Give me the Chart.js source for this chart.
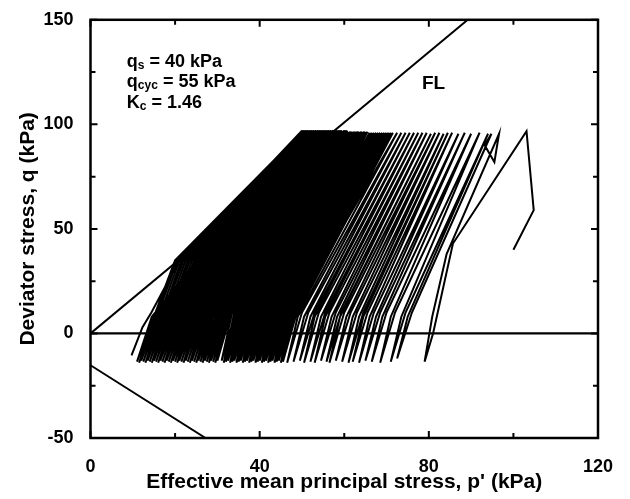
<!DOCTYPE html>
<html>
<head>
<meta charset="utf-8">
<script src="https://cdn.jsdelivr.net/npm/chart.js@4"></script>
<style>
  html, body { margin: 0; padding: 0; background: #fff; }
  canvas { display: block; }
</style>
</head>
<body>
<canvas id="stress-path" width="630" height="499"></canvas>
<script>
// axis ticks
const xTickValues = [0, 40, 80, 120];
const xMinorValues = [20, 60, 100];
const yTickValues = [-50, 0, 50, 100, 150];
const yMinorValues = [-25, 25, 75, 125];

// reference lines (p', q)
const failureLine = [[0, 0], [89.2, 150]];
const extensionLine = [[0, -15.2], [27.2, -50]];
const zeroLine = [[0, 0], [120, 0]];

// effective stress path (p', q)
const earlyCycles = [
    [100, 40], [104.8, 59], [103.1, 96.7], [85.7, 43], [81, 0], [79, -13.5],
    [80.8, 8], [84.2, 38], [96.6, 95.5], [95.5, 82], [93.2, 90], [94.8, 95.5], [76, 10],
    [72.5, -12], [75, 8], [94, 95.5], [74.5, 10],
    [71, -13.5], [73.5, 8], [92, 96], [72, 10],
    [68.5, -14], [71, 8], [90, 95.5], [70, 10],
    [66.5, -13.5], [69, 8], [88.5, 96], [68.5, 10],
    [65, -13], [67.5, 8], [87, 95.5], [67, 10],
    [63.5, -14], [66, 8], [85.5, 96], [65.5, 10],
    [62, -13.5], [64.5, 8], [84.5, 96], [64.5, 10],
    [61, -14], [63.5, 8], [83.5, 95.5], [63, 10],
    [59.5, -13.5], [62, 8], [82.5, 96], [61.5, 10],
    [58, -13], [60.5, 8], [81.5, 96], [60, 10],
    [56.5, -14], [59, 8], [80.5, 95.5], [59.3, 10],
    [55.8, -13.5], [58.3, 8], [79.5, 96], [58, 10],
    [54.5, -13], [57, 8], [78.5, 96], [56.5, 10],
    [53, -14], [55.5, 8], [77.5, 96], [55.5, 10],
    [52, -13.5], [54.5, 8], [76.5, 96], [54, 10],
    [50.5, -14], [53, 8], [75.5, 96], [53, 10],
    [49.5, -13], [52, 8], [74.5, 96], [51.5, 10],
    [48, -13.5], [50.5, 8], [73.5, 96], [50, 10],
    [46.5, -14], [49, 8], [72.5, 96], [48, 10]
];
const middleCycles = [
    [45.5, -13.5], [48.5, 8], [71.5, 96], [47.5, 10],
    [45, -14], [48, 8], [71, 96], [47, 10],
    [44.5, -13], [47.5, 8], [70.5, 96], [46.5, 10],
    [44, -13.5], [47, 8], [70, 96], [46, 10],
    [43.5, -14], [46.5, 8], [69.5, 96], [45.5, 10],
    [43, -13], [46, 8], [69, 96], [45, 10],
    [42.5, -13.5], [45.5, 8], [68.5, 96], [44.5, 10],
    [42, -14], [45, 8], [68, 96], [44, 10],
    [41.5, -13], [44.5, 8], [67.5, 96], [43.5, 10],
    [41, -13.5], [44, 8], [67, 96], [43, 10],
    [40.5, -14], [43.5, 8], [66.5, 96], [42.5, 10],
    [40, -13], [43, 8], [66, 96], [42, 10],
    [39.5, -13.5], [42.5, 8], [65.5, 96.5], [41.5, 10],
    [39, -14], [42, 8], [65, 96.5], [41, 10],
    [38.5, -13], [41.5, 8], [64.7, 96.5], [40.5, 10],
    [38, -13.5], [41, 8], [64.3, 96.5], [40, 10],
    [37.5, -14], [40.5, 8], [64, 96.5], [39.5, 10],
    [37, -13], [40, 8], [63.6, 96.5], [39, 10],
    [36.5, -13.5], [39.5, 8], [63.3, 96.5], [38.5, 10],
    [36, -14], [39, 8], [63, 96.5], [38, 10],
    [35.5, -13], [38.5, 8], [62.7, 96.5], [37.5, 10],
    [35, -13.5], [38, 8], [62.4, 96.5], [37, 10],
    [34.5, -14], [37.5, 8], [62, 96.5], [36.5, 10],
    [34, -13], [37, 8], [61.7, 96.5], [36, 10],
    [33.5, -13.5], [36.5, 8], [61.4, 96.5], [35.5, 10],
    [33, -14], [36, 8], [61, 96.5], [35, 10],
    [32.5, -13], [35.5, 8], [60.7, 97], [34.5, 10],
    [32, -13.5], [35, 8], [60.4, 97], [34, 10],
    [31.5, -14], [34.5, 8], [60.2, 97], [33.5, 10],
    [31, -13], [34, 8], [60, 97], [32.5, 10]
];
const lateCycles = [
    [30, -13], [33, 8], [59.5, 97], [37.5, 35],
    [29.5, -14], [32.5, 8], [59.3, 97], [37, 35],
    [29, -13.5], [32, 8], [59, 97], [36.5, 35],
    [28.5, -13], [31.5, 8], [58.8, 97], [36, 35],
    [28, -14], [31, 8], [58.5, 97], [35.5, 35],
    [27.5, -13.5], [30.5, 8], [58.3, 97], [35, 35],
    [27, -13], [30, 8], [58, 97], [34.5, 35],
    [26.5, -14], [29.5, 8], [57.8, 97], [34, 35],
    [26, -13.5], [29, 8], [57.5, 97], [33.5, 35],
    [25.5, -13], [28.8, 8], [57.3, 97], [33, 35],
    [25, -14], [28.3, 8], [57, 97], [32.5, 35],
    [24.5, -13.5], [27.8, 8], [56.8, 97], [32, 35],
    [24, -13], [27.3, 8], [56.5, 97], [31.5, 35],
    [23.5, -14], [26.8, 8], [56.3, 97], [31, 35],
    [23, -13.5], [26.3, 8], [56, 97], [30.5, 35],
    [22.5, -13], [25.8, 8], [55.8, 97], [30, 35],
    [22, -14], [25.3, 8], [55.5, 97], [29.5, 35],
    [21.5, -13.5], [24.8, 8], [55.3, 97], [29.2, 35],
    [21, -13], [24.3, 8], [55, 97], [29, 35],
    [20.5, -14], [23.8, 8], [54.8, 97], [28.5, 35],
    [20, -13.5], [23.3, 8], [54.5, 97], [28, 35],
    [19.5, -13], [23, 8], [54.3, 97], [27.5, 35],
    [19, -14], [22.5, 8], [54, 97], [27, 35],
    [18.5, -13.5], [22, 8], [53.8, 97], [26.5, 35],
    [18, -13], [21.5, 8], [53.5, 97], [26, 35],
    [17.5, -14], [21, 8], [53.3, 97], [25.5, 35],
    [17, -13.5], [20.5, 8], [53, 97], [25, 35],
    [16.5, -13], [20, 8], [52.8, 97], [24.5, 35],
    [16, -14], [19.5, 8], [52.5, 97], [24, 35],
    [15.5, -13.5], [19, 8], [52.3, 97], [23.5, 35],
    [15, -13], [18.5, 8], [52, 97], [23, 35],
    [14.5, -14], [18, 8], [51.8, 97], [22.5, 35],
    [14, -13.5], [17.5, 8], [51.5, 97], [22, 35],
    [13.5, -13], [17, 8], [51.3, 97], [21.5, 35],
    [13, -14], [16.5, 8], [51, 97], [21, 35],
    [12.5, -13.5], [16, 8], [50.8, 97], [20.5, 35],
    [12, -13], [15.5, 8], [50.5, 97], [20, 35],
    [11.5, -14], [15, 8], [50.3, 97], [20, 35],
    [11, -13.5], [14.5, 8], [50, 97], [21, 35], [14.4, 10], [12.3, 3], [9.7, -10.5]
];

// annotation text: [main, subscript, rest]
const noteLines = [
    ['q', 's', ' = 40 kPa'],
    ['q', 'cyc', ' = 55 kPa'],
    ['K', 'c', ' = 1.46']
];
const noteAnchor = [8.6, 127.6];
const failureLabel = 'FL';
const failureLabelAt = [81.1, 117.1];

const FONT = '"Liberation Sans", Arial, Helvetica, sans-serif';

function toXY(pairs) {
    return pairs.map(p => ({ x: p[0], y: p[1] }));
}

const stressPath = earlyCycles.concat(middleCycles, lateCycles);

let decorations = {
    id: 'decorations',
    afterDraw(chart) {
        let ctx = chart.ctx;
        let a = chart.chartArea;
        let xs = chart.scales.x;
        let ys = chart.scales.y;
        ctx.save();
        ctx.strokeStyle = '#000';
        ctx.fillStyle = '#000';

        // inward tick marks on all four sides
        ctx.lineWidth = 2;
        ctx.beginPath();
        let tick = (vals, len) => {
            for (let v of vals) {
                let px = xs.getPixelForValue(v);
                ctx.moveTo(px, a.bottom); ctx.lineTo(px, a.bottom - len);
                ctx.moveTo(px, a.top); ctx.lineTo(px, a.top + len);
            }
        };
        let ytick = (vals, len) => {
            for (let v of vals) {
                let py = ys.getPixelForValue(v);
                ctx.moveTo(a.left, py); ctx.lineTo(a.left + len, py);
                ctx.moveTo(a.right, py); ctx.lineTo(a.right - len, py);
            }
        };
        tick(xTickValues, 7);
        tick(xMinorValues, 5);
        ytick(yTickValues, 7);
        ytick(yMinorValues, 5);
        ctx.stroke();

        // frame
        ctx.lineWidth = 2.5;
        ctx.strokeRect(a.left, a.top, a.right - a.left, a.bottom - a.top);

        // annotation
        ctx.textBaseline = 'alphabetic';
        ctx.textAlign = 'left';
        let x0 = xs.getPixelForValue(noteAnchor[0]);
        let y0 = ys.getPixelForValue(noteAnchor[1]);
        noteLines.forEach((line, i) => {
            let x = x0;
            let y = y0 + i * 20.5;
            ctx.font = 'bold 18px ' + FONT;
            ctx.fillText(line[0], x, y);
            x += ctx.measureText(line[0]).width;
            ctx.font = 'bold 12px ' + FONT;
            ctx.fillText(line[1], x, y + 2);
            x += ctx.measureText(line[1]).width;
            ctx.font = 'bold 18px ' + FONT;
            ctx.fillText(line[2], x, y);
        });

        ctx.font = 'bold 19px ' + FONT;
        ctx.textAlign = 'center';
        ctx.fillText(failureLabel, xs.getPixelForValue(failureLabelAt[0]), ys.getPixelForValue(failureLabelAt[1]));
        ctx.restore();
    }
};

let lineStyle = {
    showLine: true,
    borderColor: '#000',
    backgroundColor: '#000',
    pointRadius: 0,
    tension: 0,
    fill: false
};

let ctx = document.getElementById('stress-path').getContext('2d');
new Chart(ctx, {
    type: 'scatter',
    data: {
        datasets: [
            Object.assign({ data: toXY(stressPath), borderWidth: 2 }, lineStyle),
            Object.assign({ data: toXY(failureLine), borderWidth: 2 }, lineStyle),
            Object.assign({ data: toXY(extensionLine), borderWidth: 2 }, lineStyle),
            Object.assign({ data: toXY(zeroLine), borderWidth: 2.2 }, lineStyle)
        ]
    },
    options: {
        responsive: false,
        animation: false,
        layout: {
            padding: { left: 0, top: 18, right: 32, bottom: 0 }
        },
        plugins: {
            legend: { display: false },
            tooltip: { enabled: false }
        },
        scales: {
            x: {
                type: 'linear',
                min: 0,
                max: 120,
                afterBuildTicks: s => { s.ticks = xTickValues.map(v => ({ value: v })); },
                afterFit: s => { s.height = 61; },
                grid: { display: false },
                border: { display: false },
                ticks: {
                    color: '#000',
                    padding: 10,
                    maxRotation: 0,
                    font: { family: FONT, size: 18, weight: 'bold' }
                },
                title: {
                    display: true,
                    text: "Effective mean principal stress, p' (kPa)",
                    color: '#000',
                    font: { family: FONT, size: 21, weight: 'bold' },
                    padding: { top: 0, bottom: 4 }
                }
            },
            y: {
                type: 'linear',
                min: -50,
                max: 150,
                afterBuildTicks: s => { s.ticks = yTickValues.map(v => ({ value: v })); },
                afterFit: s => { s.width = 90.5; },
                grid: { display: false },
                border: { display: false },
                ticks: {
                    color: '#000',
                    padding: 9,
                    font: { family: FONT, size: 18, weight: 'bold' }
                },
                title: {
                    display: true,
                    text: 'Deviator stress, q (kPa)',
                    color: '#000',
                    font: { family: FONT, size: 21, weight: 'bold' },
                    padding: { top: 16, bottom: 0 }
                }
            }
        }
    },
    plugins: [decorations]
});
</script>
</body>
</html>
